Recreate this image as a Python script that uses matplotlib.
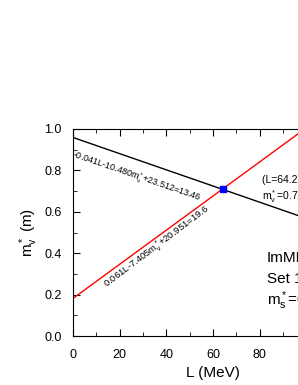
import matplotlib
matplotlib.use("Agg")
import matplotlib.pyplot as plt
from matplotlib.ticker import MultipleLocator

plt.rcParams['font.family'] = ['Liberation Sans', 'DejaVu Sans']
plt.rcParams['mathtext.fontset'] = 'custom'
plt.rcParams['mathtext.rm'] = 'Liberation Sans'
plt.rcParams['mathtext.it'] = 'Liberation Sans'

# line end points (L in MeV, m_v^*/m)
L_ends = [0, 120]
black_line = [0.959, 0.490]
red_line = [0.182, 1.171]
cross_L = [64.29]
cross_m = [0.710]

fig = plt.figure(figsize=(2.98, 3.85), dpi=100)
ax = fig.add_axes([0.245, 0.127, 0.94, 0.538])

ax.plot(L_ends, black_line, color='black', lw=1)
ax.plot(L_ends, red_line, color='red', lw=1)
ax.plot(cross_L, cross_m, 's', color='blue', ms=5, zorder=5)

ax.set_xlim(0, 120)
ax.set_ylim(0, 1.0)
ax.xaxis.set_major_locator(MultipleLocator(20))
ax.xaxis.set_minor_locator(MultipleLocator(10))
ax.yaxis.set_minor_locator(MultipleLocator(0.1))
ax.set_yticks([0, 0.2, 0.4, 0.6, 0.8, 1.0])
ax.set_yticklabels(['0.0', '0.2', '0.4', '0.6', '0.8', '1.0'])
ax.tick_params(which='both', direction='in', top=True, right=True, labelsize=9)
ax.tick_params(which='major', length=5)
ax.tick_params(which='minor', length=3)
ax.tick_params(axis='x', pad=9)
ax.tick_params(axis='y', pad=8)
ax.set_xlabel('L (MeV)', fontsize=11, labelpad=4)
ax.set_ylabel(r'm$_v^*$ (m)', fontsize=11, labelpad=3)

ax.text(0.5, 0.905, r'-0.041L-10.480m$_v^*$+23.512=13.46', fontsize=6.5,
        rotation=-19, rotation_mode='anchor', ha='left', va='top')
ax.text(16, 0.215, r'0.061L-7.405m$_v^*$+20.951=19.6', fontsize=6.8,
        rotation=37, rotation_mode='anchor', ha='left', va='bottom')
ax.text(81, 0.74, '(L=64.29 MeV,', fontsize=7.5)
ax.text(81, 0.655, r'm$_v^*$=0.710)', fontsize=7.5)
ax.text(83, 0.36, 'ImMDI', fontsize=11)
ax.text(83, 0.255, 'Set 1', fontsize=11)
ax.text(83, 0.15, r'm$_s^*$=0.7', fontsize=11)

fig.savefig('out.png', dpi=100)
